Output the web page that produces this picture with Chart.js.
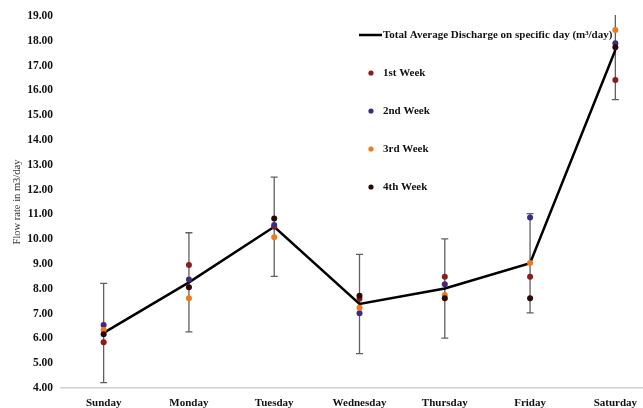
<!DOCTYPE html>
<html>
<head>
<meta charset="utf-8">
<script src="https://cdn.jsdelivr.net/npm/chart.js@4.4.1/dist/chart.umd.min.js"></script>
<style>
  html, body { margin: 0; padding: 0; background: #fff; overflow: hidden; }
  #wrap { width: 661px; height: 408px; position: relative; }
</style>
</head>
<body>
<div id="wrap"><canvas id="c"></canvas></div>
<script>
const categories = ['Sunday', 'Monday', 'Tuesday', 'Wednesday', 'Thursday', 'Friday', 'Saturday'];
const averageDischarge = [6.22, 8.26, 10.50, 7.39, 8.01, 9.03, 17.63];
const errorAmount = [2.0, 2.0, 2.0, 2.0, 2.0, 2.0, 2.0];
const week1 = [5.84, 8.96, 10.50, 7.60, 8.49, 8.49, 16.42];
const week2 = [6.54, 8.38, 10.57, 7.01, 8.18, 10.87, 17.90];
const week3 = [6.34, 7.62, 10.08, 7.24, 7.75, 9.04, 18.44];
const week4 = [6.17, 8.06, 10.83, 7.72, 7.62, 7.62, 17.74];
const yTickMin = 4, yTickMax = 19, yTickStep = 1;

const serif = "'Liberation Serif', 'Times New Roman', serif";

const errorBarPlugin = {
  id: 'errorBars',
  beforeDatasetsDraw(chart) {
    const ctx = chart.ctx, xs = chart.scales.x, ys = chart.scales.y, area = chart.chartArea;
    ctx.save();
    ctx.beginPath();
    ctx.rect(area.left, area.top - 1, area.right - area.left, area.bottom - area.top + 1);
    ctx.clip();
    ctx.strokeStyle = '#606060';
    ctx.lineWidth = 1.3;
    averageDischarge.forEach((v, i) => {
      const x = xs.getPixelForValue(i);
      const yTop = ys.getPixelForValue(v + errorAmount[i]);
      const yBot = ys.getPixelForValue(v - errorAmount[i]);
      ctx.beginPath();
      ctx.moveTo(x, yTop); ctx.lineTo(x, yBot);
      ctx.moveTo(x - 3.5, yTop); ctx.lineTo(x + 3.5, yTop);
      ctx.moveTo(x - 3.5, yBot); ctx.lineTo(x + 3.5, yBot);
      ctx.stroke();
    });
    ctx.restore();
  }
};

const legendPlugin = {
  id: 'customLegend',
  afterDraw(chart) {
    const ctx = chart.ctx;
    const ds = chart.data.datasets;
    const x0 = 359, textX = 383, y0 = 35, gap = 38;
    ctx.save();
    ctx.textBaseline = 'middle';
    ctx.textAlign = 'left';
    ctx.fillStyle = '#111';
    ds.forEach((d, i) => {
      const y = y0 + i * gap;
      if (i === 0) {
        ctx.strokeStyle = d.borderColor;
        ctx.lineWidth = 2.5;
        ctx.beginPath(); ctx.moveTo(x0, y); ctx.lineTo(textX - 1, y); ctx.stroke();
        ctx.font = 'bold 11px ' + serif;
        ctx.fillStyle = '#111';
        ctx.fillText(d.label, textX, y);
      } else {
        ctx.fillStyle = d.backgroundColor;
        ctx.beginPath(); ctx.arc(371, y, 2.6, 0, Math.PI * 2); ctx.fill();
        ctx.font = 'bold 11px ' + serif;
        ctx.fillStyle = '#111';
        ctx.fillText(d.label, textX, y);
      }
    });
    ctx.restore();
  }
};

const weekPoint = (label, data, color) => ({
  type: 'line', label, data, showLine: false,
  backgroundColor: color, borderColor: color,
  pointRadius: 3, pointBorderWidth: 0, pointHoverRadius: 3
});

new Chart(document.getElementById('c'), {
  data: {
    labels: categories,
    datasets: [
      { type: 'line', label: 'Total Average Discharge on specific day (m³/day)', data: averageDischarge,
        borderColor: '#000', backgroundColor: '#000', borderWidth: 2.5, pointRadius: 0, tension: 0, order: 5 },
      Object.assign(weekPoint('1st Week', week1, '#8a1c1c'), { order: 4 }),
      Object.assign(weekPoint('2nd Week', week2, '#3f2a7c'), { order: 3 }),
      Object.assign(weekPoint('3rd Week', week3, '#f07a1a'), { order: 2 }),
      Object.assign(weekPoint('4th Week', week4, '#2a0808'), { order: 1 })
    ]
  },
  options: {
    responsive: true,
    maintainAspectRatio: false,
    animation: false,
    layout: { padding: { top: 16, right: 0, left: 0, bottom: 0 } },
    plugins: { legend: { display: false }, tooltip: { enabled: false } },
    scales: {
      x: {
        type: 'category',
        offset: true,
        grid: { display: false, drawTicks: false },
        border: { display: true, color: '#d0d0d0', width: 1.5 },
        ticks: { color: '#111', font: { family: serif, size: 11, weight: 'bold' }, padding: 9, maxRotation: 0, autoSkip: false },
        afterFit(s) { s.height = 20; }
      },
      y: {
        min: yTickMin, max: yTickMax,
        grid: { display: false, drawTicks: false },
        border: { display: false },
        ticks: { stepSize: yTickStep, color: '#111', font: { family: serif, size: 11.5, weight: 'bold' }, padding: 8,
                 callback: v => Number(v).toFixed(2) },
        title: { display: true, text: 'Flow rate in m3/day', color: '#333', font: { family: serif, size: 10.5 }, padding: { top: 11, bottom: 0 } },
        afterFit(s) { s.width = 61; }
      }
    }
  },
  plugins: [errorBarPlugin, legendPlugin]
});
</script>
</body>
</html>
